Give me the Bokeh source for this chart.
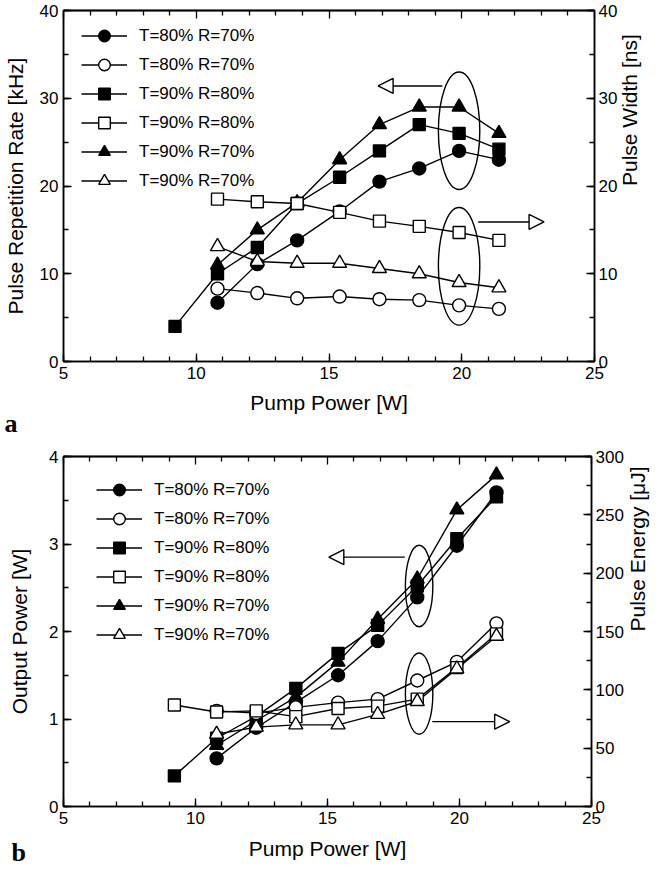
import math
from bokeh.plotting import figure
from bokeh.models import (Range1d, LinearAxis, SingleIntervalTicker, FixedTicker, Legend,
                          LegendItem, Arrow, NormalHead, Title)
from bokeh.layouts import column
from bokeh.embed import file_html
from bokeh.resources import INLINE

# ---------------- data ----------------
pump_power = [10.8, 12.3, 13.8, 15.4, 16.9, 18.4, 19.9, 21.4]
pump_power_ext = [9.2, 10.8, 12.3, 13.8, 15.4, 16.9, 18.4, 19.9, 21.4]
series_labels = ["T=80% R=70%", "T=80% R=70%", "T=90% R=80%",
                 "T=90% R=80%", "T=90% R=70%", "T=90% R=70%"]

# (a) pulse repetition rate [kHz] (left) and pulse width [ns] (right)
rep_rate_t80r70 = [6.7, 11.1, 13.8, 17.1, 20.5, 22.0, 24.0, 23.0]
width_t80r70 = [8.3, 7.8, 7.2, 7.4, 7.1, 7.0, 6.4, 6.0]
rep_rate_t90r80 = [4.0, 10.0, 13.0, 18.0, 21.0, 24.0, 27.0, 26.0, 24.2]
width_t90r80 = [18.5, 18.2, 18.0, 17.0, 16.0, 15.4, 14.7, 13.8]
rep_rate_t90r70 = [11.0, 15.0, 18.1, 23.0, 27.0, 29.0, 29.0, 26.0]
width_t90r70 = [13.1, 11.4, 11.2, 11.2, 10.6, 10.0, 9.0, 8.4]

# (b) output power [W] (left) and pulse energy [uJ] (right)
out_t80r70 = [0.55, 0.90, 1.19, 1.50, 1.89, 2.39, 2.98, 3.59]
energy_t80r70 = [82, 80, 85, 89, 92, 108, 124, 157]
out_t90r80 = [0.35, 0.78, 1.03, 1.35, 1.75, 2.07, 2.52, 3.06, 3.54]
energy_t90r80 = [87, 81, 82, 77, 84, 86, 92, 119, 148]
out_t90r70 = [0.70, 0.98, 1.25, 1.65, 2.14, 2.60, 3.39, 3.79]
energy_t90r70 = [62, 68, 70, 70, 79, 90, 118, 146]

# x ticks along the top frame edge (no labels)
top_major_ticks = [5, 10, 15, 20, 25]
top_minor_ticks = [6, 7, 8, 9, 11, 12, 13, 14, 16, 17, 18, 19, 21, 22, 23, 24]

# annotation guides (ellipses + arrows)
ell_a_x = [19.9, 19.9]
ell_a_y = [26.3, 10.85]
ell_a_w, ell_a_h = 1.56, 13.4
arrows_a = [(19.27, 31.4, 16.85, 31.4), (20.62, 15.9, 23.1, 15.9)]

ell_b_x = [18.47, 18.47]
ell_b_y = [2.52, 1.29]
ell_b_w, ell_b_h = 1.04, 0.93
arrows_b = [(17.93, 2.85, 15.05, 2.85), (18.97, 0.97, 21.9, 0.97)]

FONT = "Liberation Sans"
LW = 1.4


def style_axis(ax, ticker, labels=True):
    ax.ticker = ticker
    ax.major_tick_in = 8
    ax.major_tick_out = 0
    ax.minor_tick_in = 5
    ax.minor_tick_out = 0
    ax.axis_line_color = "black"
    ax.axis_line_width = 1.5
    ax.major_tick_line_color = "black"
    ax.minor_tick_line_color = "black"
    ax.major_tick_line_width = 1.3
    ax.minor_tick_line_width = 1.3
    ax.major_label_text_font = FONT
    ax.major_label_text_color = "black"
    ax.major_label_text_font_size = "17px"
    ax.major_label_standoff = 5 if labels else 0
    ax.axis_label_text_font = FONT
    ax.axis_label_text_font_size = "21px"
    ax.axis_label_text_font_style = "normal"
    ax.axis_label_text_color = "black"


def make_panel(frame_w, frame_h, borders, yl, yr, x_lab, yl_lab, yr_lab,
               yl_tick, yr_tick, x_lab_standoff, yl_lab_standoff, yr_lab_standoff):
    p = figure(frame_width=frame_w, frame_height=frame_h,
               x_range=Range1d(5, 25), y_range=Range1d(*yl),
               output_backend="svg", toolbar_location=None,
               min_border_left=borders[0], min_border_right=borders[1],
               min_border_top=borders[2], min_border_bottom=borders[3])
    p.extra_y_ranges = {"right": Range1d(*yr)}
    p.grid.visible = False
    p.outline_line_color = "black"
    p.outline_line_width = 1.5
    p.background_fill_color = "white"
    p.border_fill_color = "white"

    style_axis(p.xaxis[0], SingleIntervalTicker(interval=5, num_minor_ticks=5))
    p.xaxis[0].axis_label = x_lab
    p.xaxis[0].axis_label_standoff = x_lab_standoff
    style_axis(p.yaxis[0], SingleIntervalTicker(interval=yl_tick, num_minor_ticks=2))
    p.yaxis[0].axis_label = yl_lab
    p.yaxis[0].axis_label_standoff = yl_lab_standoff

    ra = LinearAxis(y_range_name="right", axis_label=yr_lab)
    style_axis(ra, SingleIntervalTicker(interval=yr_tick, num_minor_ticks=2))
    ra.major_label_standoff = 4
    ra.axis_label_standoff = yr_lab_standoff
    ra.axis_label_orientation = math.pi / 2
    p.add_layout(ra, "right")

    # top edge ticks: two label-less axes (short and long ticks)
    for ticks, length in ((top_minor_ticks, 5), (top_major_ticks, 8)):
        ta = LinearAxis()
        style_axis(ta, FixedTicker(ticks=[], minor_ticks=ticks), labels=False)
        ta.minor_tick_in = length
        p.add_layout(ta, "above")
    return p


def add_series(p, specs):
    lines = []
    for (x, y, marker, fill, rng) in specs:
        kw = {} if rng == "default" else {"y_range_name": rng}
        lines.append(p.line(x, y, line_color="black", line_width=LW, **kw))
    scat = [None] * len(specs)
    order = [i for i, s in enumerate(specs) if s[3] == "black"] + \
            [i for i, s in enumerate(specs) if s[3] != "black"]
    sizes = {"circle": 13, "square": 12, "triangle": 14}
    for i in order:
        x, y, marker, fill, rng = specs[i]
        kw = {} if rng == "default" else {"y_range_name": rng}
        scat[i] = p.scatter(x, y, marker=marker, size=sizes[marker], fill_color=fill,
                            line_color="black", line_width=LW, **kw)
    return list(zip(lines, scat))


def add_legend(p, pairs, loc):
    items = [LegendItem(label=lbl, renderers=[l, s]) for lbl, (l, s) in zip(series_labels, pairs)]
    lg = Legend(items=items, location=loc, glyph_width=46, glyph_height=29,
                spacing=0, padding=0, margin=0, label_standoff=12,
                label_text_font=FONT, label_text_font_size="17px",
                label_text_color="black", label_height=20,
                border_line_color=None, background_fill_alpha=0)
    p.add_layout(lg)


def add_guides(p, ex, ey, ew, eh, arrows):
    p.ellipse(x=ex, y=ey, width=ew, height=eh, fill_color=None,
              line_color="black", line_width=LW)
    for (x0, y0, x1, y1) in arrows:
        p.add_layout(Arrow(end=NormalHead(size=15, fill_color="white",
                                          line_color="black", line_width=LW),
                           x_start=x0, y_start=y0, x_end=x1, y_end=y1,
                           line_color="black", line_width=LW))


def add_panel_letter(p, letter, offset, standoff):
    p.add_layout(Title(text=letter, align="left", offset=offset, standoff=standoff,
                       vertical_align="top", text_font="Liberation Serif",
                       text_font_style="bold", text_font_size="26px",
                       text_color="black"), "below")


# ---------------- panel a ----------------
pa = make_panel(531, 351, (61, 59, 10, 80), (0, 40), (0, 40),
                "Pump Power [W]", "Pulse Repetition Rate [kHz]", "Pulse Width [ns]",
                10, 10, 9, 10, 9)
pairs_a = add_series(pa, [
    (pump_power, rep_rate_t80r70, "circle", "black", "default"),
    (pump_power, width_t80r70, "circle", "white", "right"),
    (pump_power_ext, rep_rate_t90r80, "square", "black", "default"),
    (pump_power, width_t90r80, "square", "white", "right"),
    (pump_power, rep_rate_t90r70, "triangle", "black", "default"),
    (pump_power, width_t90r70, "triangle", "white", "right"),
])
add_legend(pa, pairs_a, (18, 166))
add_guides(pa, ell_a_x, ell_a_y, ell_a_w, ell_a_h, arrows_a)
add_panel_letter(pa, "a", -59, -16)

# ---------------- panel b ----------------
pb = make_panel(528, 350, (54, 69, 15, 55), (0, 4), (0, 300),
                "Pump Power [W]", "Output Power [W]", "Pulse Energy [μJ]",
                1, 50, 10, 15, 11)
pairs_b = add_series(pb, [
    (pump_power, out_t80r70, "circle", "black", "default"),
    (pump_power, energy_t80r70, "circle", "white", "right"),
    (pump_power_ext, out_t90r80, "square", "black", "default"),
    (pump_power_ext, energy_t90r80, "square", "white", "right"),
    (pump_power, out_t90r70, "triangle", "black", "default"),
    (pump_power, energy_t90r70, "triangle", "white", "right"),
])
add_legend(pb, pairs_b, (33, 157))
add_guides(pb, ell_b_x, ell_b_y, ell_b_w, ell_b_h, arrows_b)
add_panel_letter(pb, "b", -52, -50)

layout = column(pa, pb, spacing=0)
open("out.html", "w").write(file_html(layout, INLINE))
